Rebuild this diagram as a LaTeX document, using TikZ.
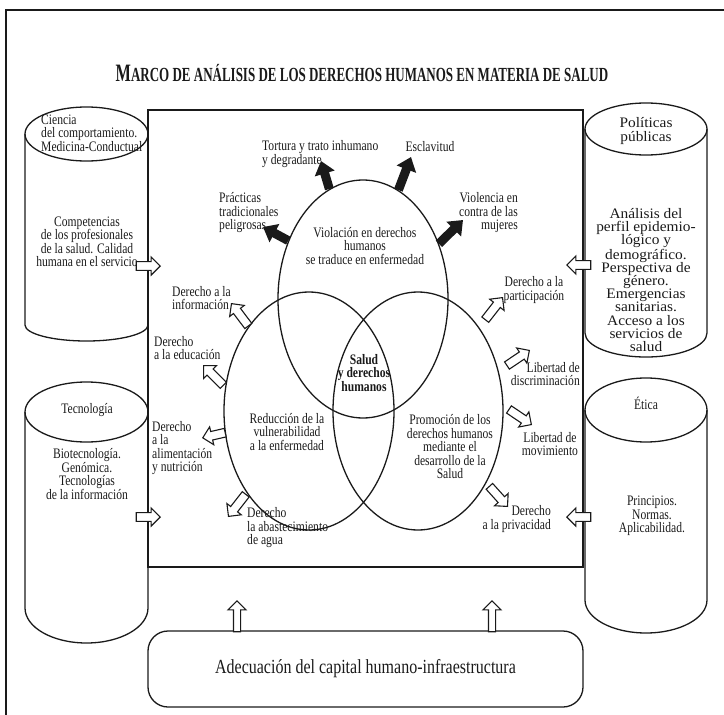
\documentclass[tikz,border=0pt]{standalone}
\usepackage{fontspec}
\setmainfont{Liberation Serif}[FakeStretch=0.8]
\newfontfamily\titlefont{Liberation Serif}[FakeStretch=0.65]
\newfontfamily\widefont{Liberation Serif}[FakeStretch=1.06]
\usepackage{tikz}
\usetikzlibrary{
    shapes.geometric,
    shapes.arrows,
    arrows.meta,
    positioning
}
\definecolor{ink}{HTML}{1A1A1A}
\tikzset{
    % Venn ellipses
    venn/.style={
        ellipse,
        draw=ink,
        line width=1.3pt,
        minimum width=170pt,
        minimum height=238pt,
        inner sep=0pt
    },
    % Central square
    panel/.style={
        rectangle,
        draw=ink,
        line width=1.6pt,
        minimum width=435pt,
        minimum height=457pt,
        inner sep=0pt
    },
    % Cylinder outlines
    cyl line/.style={
        draw=ink,
        line width=1.3pt
    },
    % Label style
    label text/.style={
        font=\fontsize{14.5}{13.5}\selectfont,
        text=ink,
        align=center,
        inner sep=0pt
    },
    wide text/.style={
        label text,
        font=\widefont\fontsize{14.5}{13.2}\selectfont
    },
    hub text/.style={
        label text,
        font=\fontsize{14.5}{13.5}\selectfont\bfseries
    },
    % Title
    title text/.style={
        font=\titlefont\bfseries,
        text=ink,
        inner sep=0pt
    },
    % Bottom box
    base box/.style={
        rectangle,
        rounded corners=20pt,
        draw=ink,
        line width=1.3pt,
        minimum width=435pt,
        minimum height=76pt,
        font=\fontsize{20}{20}\selectfont,
        text=ink
    },
    % Arrow styles
    heavy/.style={
        -{Triangle[length=13pt, width=20pt]},
        line width=9pt,
        draw=ink
    },
    hollow/.style={
        single arrow,
        draw=ink,
        fill=white,
        line width=1.1pt,
        minimum height=#1,
        inner sep=3.8pt,
        single arrow head extend=4.8pt,
        single arrow tip angle=90,
        anchor=tip
    },
    hollow/.default=26pt
}
\begin{document}
\begin{tikzpicture}[x=1pt, y=1pt]

    \useasboundingbox (0,0) rectangle (724,-715);
    \clip (0,0) rectangle (724,-715);

    % Outer frame
    \draw[draw=ink, line width=1.8pt] (6,-10) rectangle (760,-760);

    % Title
    \node[title text] (title) at (362,-73)
        {\fontsize{25}{25}\selectfont M\fontsize{20}{20}\selectfont ARCO DE ANÁLISIS DE LOS DERECHOS HUMANOS EN MATERIA DE SALUD};

    % Central square
    \node[panel] (panel) at (365.5,-338.5) {};

    % Cylinders
    \draw[cyl line] (25,-134) -- (25,-325) arc[start angle=180, end angle=360, x radius=61.5, y radius=16] -- (148,-134);
    \draw[cyl line] (86.5,-134) ellipse[x radius=61.5, y radius=27];
    \draw[cyl line] (25,-412) -- (25,-608) arc[start angle=180, end angle=360, x radius=61.5, y radius=35] -- (148,-412);
    \draw[cyl line] (86.5,-412) ellipse[x radius=61.5, y radius=30];
    \draw[cyl line] (585,-129) -- (585,-333) arc[start angle=180, end angle=360, x radius=61, y radius=24] -- (707,-129);
    \draw[cyl line] (646,-129) ellipse[x radius=61, y radius=26];
    \draw[cyl line] (585,-410) -- (585,-600) arc[start angle=180, end angle=360, x radius=61, y radius=33] -- (707,-410);
    \draw[cyl line] (646,-410) ellipse[x radius=61, y radius=32];

    % Cylinder texts
    \node[label text, align=left, anchor=west] (ciencia) at (41,-133) {Ciencia\\del comportamiento.\\Medicina-Conductual};
    \node[label text] (compet) at (87,-242) {Competencias\\de los profesionales\\de la salud. Calidad\\humana en el servicio};
    \node[label text] (tecno) at (87,-410) {Tecnología};
    \node[label text] (biotec) at (87,-474) {Biotecnología.\\Genómica.\\Tecnologías\\de la información};
    \node[wide text] (polit) at (646,-131) {Políticas\\públicas};
    \node[wide text] (perfil) at (646,-280) {Análisis del\\perfil epidemio-\\lógico y\\demográfico.\\Perspectiva de\\género.\\Emergencias\\sanitarias.\\Acceso a los\\servicios de\\salud};
    \node[label text] (etica) at (646,-403) {Ética};
    \node[label text] (princ) at (652,-516) {Principios.\\Normas.\\Aplicabilidad.};

    % Venn diagram
    \node[venn] (viol) at (363,-299) {};
    \node[venn] (vuln) at (309,-411) {};
    \node[venn] (prom) at (418,-411) {};

    \node[label text] (violT) at (365,-246) {Violación en derechos\\humanos\\se traduce en enfermedad};
    \node[label text] (vulnT) at (287,-432) {Reducción de la\\vulnerabilidad\\a la enfermedad};
    \node[label text] (promT) at (450,-447) {Promoción de los\\derechos humanos\\mediante el\\desarrollo de la\\Salud};
    \node[hub text] (salud) at (364,-373) {Salud\\y derechos\\humanos};

    % Violations
    \node[label text, align=left, anchor=west] (tortura) at (262,-154) {Tortura y trato inhumano\\y degradante};
    \node[label text] (esclav) at (430,-147) {Esclavitud};
    \node[label text, align=left, anchor=west] (practicas) at (219,-213) {Prácticas\\tradicionales\\peligrosas};
    \node[label text, align=right, anchor=east] (violencia) at (518,-213) {Violencia en\\contra de las\\mujeres};

    \coordinate (tTort) at (321,-161);
    \coordinate (tEscl) at (411,-157);
    \coordinate (tPrac) at (263,-227);
    \coordinate (tViol) at (463,-220);

    \draw[heavy] (viol.107) -- (tTort);
    \draw[heavy] (viol.72) -- (tEscl);
    \draw[heavy] (viol.142) -- (tPrac);
    \draw[heavy] (viol.36) -- (tViol);

    % Rights
    \node[label text, align=left, anchor=west] (info) at (172,-298) {Derecho a la\\información};
    \node[label text, align=left, anchor=west] (educ) at (154,-348) {Derecho\\a la educación};
    \node[label text, align=left, anchor=west] (alim) at (152,-448) {Derecho\\a la\\alimentación\\y nutrición};
    \node[label text, align=left, anchor=west] (agua) at (247,-528) {Derecho\\la abastecimiento\\de agua};

    \node[label text] (partic) at (534,-290) {Derecho a la\\participación};
    \node[label text, align=right, anchor=east] (discr) at (580,-374) {Libertad de\\discriminación};
    \node[label text] (movim) at (550,-444) {Libertad de\\movimiento};
    \node[label text, align=right, anchor=east] (priv) at (551,-519) {Derecho\\a la privacidad};

    \node[hollow=28pt, rotate=127] (hInfo) at (231,-303) {};
    \node[hollow=28pt, rotate=135] (hEduc) at (203,-365) {};
    \node[hollow=23pt, rotate=193] (hAlim) at (202,-438) {};
    \node[hollow=28pt, rotate=232] (hAgua) at (228,-517) {};
    \node[hollow=28pt, rotate=52] (hPart) at (503,-297) {};
    \node[hollow=27pt, rotate=34] (hDisc) at (530,-350) {};
    \node[hollow=27pt, rotate=-34] (hMov) at (532,-425) {};
    \node[hollow=27pt, rotate=-48] (hPriv) at (508,-507) {};

    % Inputs from the cylinders
    \node[hollow=24pt] (hCien) at (161,-266) {};
    \node[hollow=24pt] (hTecn) at (161,-517) {};
    \node[hollow=24pt, rotate=180] (hPol) at (566,-265) {};
    \node[hollow=24pt, rotate=180] (hEtic) at (566,-517) {};

    % Bottom box
    \node[base box] (adec) at (365.5,-669) {Adecuación del capital humano-infraestructura};
    \node[hollow=31pt, rotate=90, inner sep=3pt, single arrow head extend=5.5pt] (hUpL) at (237,-600) {};
    \node[hollow=31pt, rotate=90, inner sep=3pt, single arrow head extend=5.5pt] (hUpR) at (492,-600) {};

\end{tikzpicture}
\end{document}
